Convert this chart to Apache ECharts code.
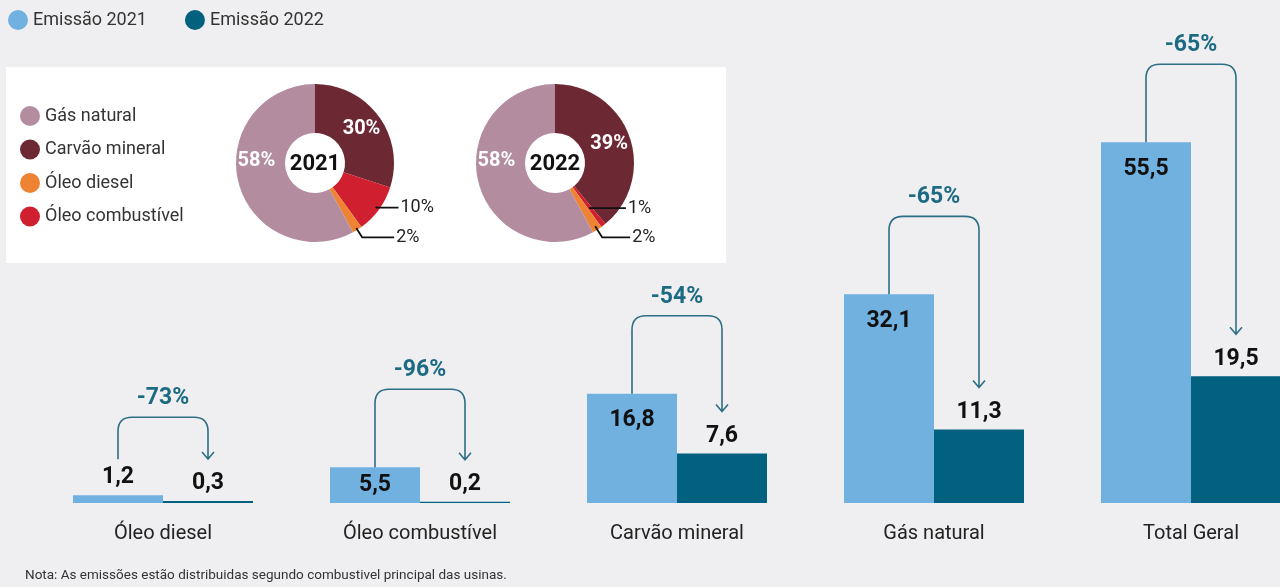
<!DOCTYPE html>
<html><head><meta charset="utf-8">
<script src="https://cdn.jsdelivr.net/npm/echarts@6/dist/echarts.min.js"></script>
<style>html,body{margin:0;padding:0;background:#efeff1}#c{width:1280px;height:587px}</style>
</head><body><div id="c"></div>
<script>
// ---- data ----
const categories = ['Óleo diesel', 'Óleo combustível', 'Carvão mineral', 'Gás natural', 'Total Geral'];
const emissao2021 = [1.2, 5.5, 16.8, 32.1, 55.5];
const emissao2022 = [0.3, 0.2, 7.6, 11.3, 19.5];
const variacao = ['-73%', '-96%', '-54%', '-65%', '-65%'];
const seriesNames = ['Emissão 2021', 'Emissão 2022'];
const fuels = ['Carvão mineral', 'Óleo combustível', 'Óleo diesel', 'Gás natural']; // clockwise from top
const share2021 = [30, 10, 2, 58];
const share2022 = [39, 1, 2, 58];
const fuelLegend = ['Gás natural', 'Carvão mineral', 'Óleo diesel', 'Óleo combustível'];
const pieYears = ['2021', '2022'];
const nota = 'Nota: As emissões estão distribuidas segundo combustivel principal das usinas.';

// ---- styles ----
const C21 = '#70b1e0', C22 = '#01617f', ARROW = '#2d6f85', PCT = '#1d6b83';
const fuelColors = {'Gás natural': '#b38ca0', 'Carvão mineral': '#6c2833', 'Óleo diesel': '#ee8433', 'Óleo combustível': '#d01f2f'};
const BOLDF = "'Roboto','Liberation Sans',sans-serif";
const BASE = "'Roboto','Liberation Sans',sans-serif";
const BAR_W = 90;
const fmt = v => v.toFixed(1).replace('.', ',');
const pos21 = v => v < 3 ? 'top' : (v < 10 ? 'inside' : 'insideTop');

const valueLabel = {show: true, color: '#111', fontSize: 23, fontWeight: 'bold', fontFamily: BOLDF,
  formatter: p => fmt(p.value)};

function mainPie(center, shares) {
  return {
    type: 'pie', center: center, radius: [30, 79], startAngle: 90, clockwise: true,
    avoidLabelOverlap: false, silent: true, z: 2,
    itemStyle: {borderWidth: 0},
    labelLine: {show: false},
    data: fuels.map((f, i) => ({
      name: f, value: shares[i], itemStyle: {color: fuelColors[f]},
      label: shares[i] >= 20 ? {show: true, position: 'inner', color: '#fff', fontSize: 20, fontWeight: 'bold',
        fontFamily: BOLDF, formatter: p => p.value + '%', offset: f === 'Gás natural' ? [-3, -16] : [0, 0]}
        : {show: false}
    }))
  };
}
// leader-line label for a small slice
function leaderPie(center, shares, target, r0, len, len2) {
  return {
    type: 'pie', center: center, radius: [0, r0], startAngle: 90, clockwise: true,
    avoidLabelOverlap: false, silent: true, z: 4,
    itemStyle: {color: 'rgba(0,0,0,0)', borderWidth: 0},
    label: {position: 'outside', color: '#222', fontSize: 18, fontFamily: BASE, distanceToLabelLine: 2,
      formatter: p => p.value + '%'},
    labelLine: {length: len, length2: len2, smooth: false, lineStyle: {color: '#111', width: 1.8}},
    emphasis: {disabled: true},
    data: fuels.map((f, i) => ({
      name: f, value: shares[i],
      label: {show: f === target}, labelLine: {show: f === target}
    }))
  };
}

const chart = echarts.init(document.getElementById('c'));
chart.setOption({
  backgroundColor: '#efeff1',
  animation: false,
  legend: [
    {data: seriesNames, left: 3, top: 5, icon: 'circle', itemWidth: 20, itemHeight: 20, itemGap: 38,
      textStyle: {fontSize: 18, color: '#333', fontFamily: BASE}},
    {data: fuelLegend, orient: 'vertical', left: 15, top: 101, icon: 'circle', itemWidth: 20, itemHeight: 20,
      itemGap: 13.5, textStyle: {fontSize: 18, color: '#333', fontFamily: BASE}}
  ],
  grid: {left: 34.5, top: 113, width: 1285, height: 390, outerBoundsMode: 'none', containLabel: false},
  xAxis: {type: 'category', data: categories, axisLine: {show: false}, axisTick: {show: false},
    axisLabel: {fontSize: 20, color: '#222', margin: 21, fontFamily: BASE}},
  yAxis: {type: 'value', min: 0, max: 60, show: false, splitLine: {show: false}},
  graphic: [
    {type: 'rect', z: -10, shape: {x: 6, y: 67, width: 720, height: 196}, style: {fill: '#ffffff'}},
    {type: 'text', z: 100, x: 315, y: 164, style: {text: pieYears[0], fill: '#111', font: "bold 22px " + BOLDF, align: 'center', verticalAlign: 'middle'}},
    {type: 'text', z: 100, x: 555, y: 164, style: {text: pieYears[1], fill: '#111', font: "bold 22px " + BOLDF, align: 'center', verticalAlign: 'middle'}},
    {type: 'text', z: 100, x: 25, y: 576, style: {text: nota, fill: '#333', font: "13.5px " + BASE, verticalAlign: 'middle'}}
  ],
  series: [
    {
      name: seriesNames[0], type: 'bar', barWidth: BAR_W, barGap: '0%', itemStyle: {color: C21},
      data: emissao2021.map(v => ({value: v, label: Object.assign({}, valueLabel,
        {position: pos21(v), distance: pos21(v) === 'top' ? 6 : 15})}))
    },
    {
      name: seriesNames[1], type: 'bar', barWidth: BAR_W, barGap: '0%', itemStyle: {color: C22},
      label: Object.assign({}, valueLabel, {position: 'top', distance: 6}),
      data: emissao2022
    },
    {
      type: 'custom', coordinateSystem: 'cartesian2d', clip: false, silent: true, z: 5,
      encode: {x: 0, y: [1, 2]},
      data: categories.map((c, i) => [i, emissao2021[i], emissao2022[i]]),
      renderItem: function (params, api) {
        const i = api.value(0), v1 = api.value(1), v2 = api.value(2);
        const p1 = api.coord([i, v1]), p2 = api.coord([i, v2]);
        const x1 = p1[0] - BAR_W / 2, x2 = p2[0] + BAR_W / 2;
        const y1 = p1[1], y2 = p2[1];
        const top = Math.min(y1, y2) - 78;
        const startY = pos21(v1) === 'top' ? y1 - 36 : y1;
        const endY = y2 - 42;
        const r = 14;
        const d = 'M' + x1 + ',' + startY + ' L' + x1 + ',' + (top + r) +
          ' Q' + x1 + ',' + top + ' ' + (x1 + r) + ',' + top +
          ' L' + (x2 - r) + ',' + top + ' Q' + x2 + ',' + top + ' ' + x2 + ',' + (top + r) +
          ' L' + x2 + ',' + endY +
          ' M' + (x2 - 6) + ',' + (endY - 7) + ' L' + x2 + ',' + endY + ' L' + (x2 + 6) + ',' + (endY - 7);
        return {type: 'group', children: [
          {type: 'path', shape: {pathData: d}, style: {fill: 'none', stroke: ARROW, lineWidth: 1.6}},
          {type: 'text', x: (x1 + x2) / 2, y: top - 19, style: {text: variacao[params.dataIndex], fill: PCT,
            font: 'bold 23px ' + BOLDF, align: 'center', verticalAlign: 'middle'}}
        ]};
      }
    },
    mainPie([315, 163], share2021),
    mainPie([555, 163], share2022),
    leaderPie([315, 163], share2021, 'Óleo combustível', 75, 1, 22),
    leaderPie([315, 163], share2021, 'Óleo diesel', 77, 11, 32),
    leaderPie([555, 163], share2022, 'Óleo combustível', 56, 1, 36),
    leaderPie([555, 163], share2022, 'Óleo diesel', 75, 13, 28)
  ]
});
</script></body></html>
